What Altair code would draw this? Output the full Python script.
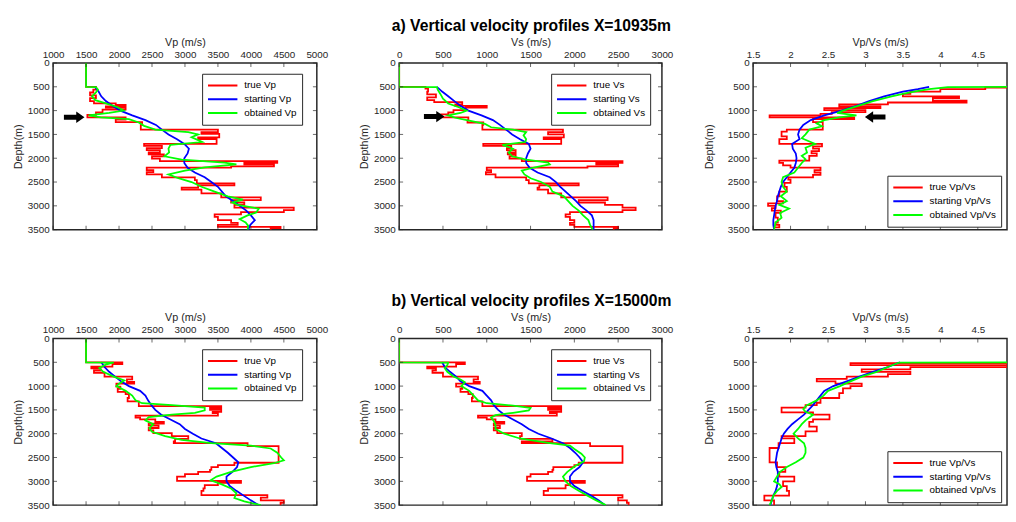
import altair as alt
import pandas as pd

FONT = "Liberation Sans"
AX = "#262626"
RED, BLUE, GREEN = "#ff0000", "#0000ff", "#00ff00"

DEPTH_TICKS = [0, 500, 1000, 1500, 2000, 2500, 3000, 3500]
VP_TICKS = [1000, 1500, 2000, 2500, 3000, 3500, 4000, 4500, 5000]
VS_TICKS = [0, 500, 1000, 1500, 2000, 2500, 3000]
VPVS_TICKS = [1.5, 2, 2.5, 3, 3.5, 4, 4.5]

TITLE_A = "a) Vertical velocity profiles X=10935m"
TITLE_B = "b) Vertical velocity profiles X=15000m"

# ---------- row a : X=10935m  (depth, value) ----------
A_VP_TRUE = [(0,1500),(500,1650),(560,1610),(620,1560),(680,1650),(740,1560),(800,1620),(850,1950),(880,2100),(910,1800),(940,2100),(980,1750),(1040,1650),(1090,1520),(1140,2100),(1190,1950),(1240,2350),(1300,2330),(1400,3500),(1450,3250),(1490,3520),(1560,3200),(1600,3480),(1700,2380),(1740,2650),(1790,2420),(1830,2620),(1880,2450),(1920,2680),(1960,2500),(2010,2620),(2060,4400),(2100,3900),(2130,4350),(2170,3700),(2200,2420),(2250,2520),(2290,2420),(2340,2650),(2400,3150),(2460,3180),(2530,3750),(2570,3200),(2620,2950),(2660,3250),(2740,3550),(2820,4150),(2880,3700),(2930,3900),(2980,3750),(3040,4650),(3090,4500),(3130,3850),(3180,3450),(3230,3500),(3300,3700),(3360,3800),(3400,3500),(3440,4450),(3470,4300)]
A_VP_START = [(500,1630),(600,1690),(700,1730),(800,1800),(900,1900),(1000,2020),(1100,2200),(1200,2400),(1300,2560),(1400,2650),(1500,2750),(1600,2880),(1700,2990),(1800,3060),(1900,3040),(2000,2990),(2100,2990),(2200,3040),(2300,3150),(2400,3300),(2500,3400),(2600,3500),(2700,3560),(2800,3620),(2900,3730),(3000,3830),(3100,3930),(3200,4000),(3300,4060),(3400,3990),(3500,3960)]
A_VP_OBT = [(0,1500),(500,1500),(505,1650),(560,1680),(620,1650),(700,1590),(780,1640),(850,1800),(930,1980),(1000,2070),(1050,1850),(1100,1540),(1140,1720),(1180,2150),(1250,2300),(1320,2380),(1400,2550),(1450,3050),(1500,3200),(1560,3100),(1620,3200),(1660,3260),(1720,2780),(1800,2750),(1880,2760),(1960,2690),(2030,2950),(2090,3600),(2130,3780),(2190,3300),(2260,3000),(2340,2750),(2420,2900),(2500,3100),(2600,3250),(2700,3450),(2800,3650),(2870,3880),(2930,3720),(2980,3800),(3060,4120),(3140,4080),(3200,3950),(3280,3830),(3350,3920),(3420,3960),(3500,3950)]

A_VS_TRUE = [(0,0),(500,300),(540,330),(600,320),(660,420),(720,320),(780,400),(820,720),(870,640),(900,1000),(940,760),(990,620),(1040,560),(1080,480),(1140,790),(1200,780),(1250,960),(1300,950),(1400,1870),(1450,1700),(1500,1880),(1560,1650),(1600,1850),(1700,960),(1740,1280),(1790,1230),(1830,1330),(1880,1240),(1920,1330),(1960,1260),(2010,1400),(2060,2550),(2100,2250),(2130,2500),(2170,2150),(2200,1000),(2250,1050),(2290,990),(2340,1100),(2400,1450),(2460,1480),(2530,2050),(2570,1600),(2620,1580),(2660,1700),(2740,1850),(2820,2380),(2880,2050),(2930,2350),(2980,2550),(3040,2700),(3090,2550),(3130,1950),(3180,1900),(3230,1950),(3300,2000),(3360,1950),(3400,2000),(3440,2500),(3470,2450)]
A_VS_START = [(500,430),(600,490),(700,560),(800,630),(900,700),(1000,790),(1100,940),(1200,1070),(1300,1150),(1400,1220),(1500,1290),(1600,1380),(1700,1480),(1800,1500),(1900,1470),(2000,1450),(2100,1450),(2200,1490),(2300,1580),(2400,1720),(2500,1790),(2600,1840),(2700,1900),(2800,1960),(2900,2020),(3000,2070),(3100,2140),(3200,2200),(3300,2220),(3400,2220),(3500,2220)]
A_VS_OBT = [(0,0),(500,0),(505,430),(560,440),(650,470),(750,500),(850,560),(930,680),(1000,770),(1050,700),(1100,560),(1150,640),(1210,800),(1280,980),(1350,1050),(1400,1300),(1450,1450),(1520,1420),(1600,1450),(1660,1440),(1720,1180),(1800,1300),(1880,1250),(1960,1290),(2030,1450),(2090,1700),(2130,1720),(2190,1550),(2260,1400),(2340,1430),(2420,1500),(2500,1620),(2600,1720),(2700,1750),(2800,1880),(2900,1930),(3000,1980),(3100,2050),(3200,2100),(3300,2160),(3400,2180),(3500,2210)]

A_R_TRUE = [(500,5.2),(515,4.6),(550,4.0),(600,3.6),(650,3.5),(700,4.25),(740,3.9),(790,4.35),(830,3.3),(870,2.65),(910,3.2),(950,2.45),(990,3.0),(1030,2.55),(1070,2.4),(1100,1.72),(1140,2.85),(1180,2.3),(1240,2.43),(1400,1.95),(1440,1.88),(1540,1.95),(1600,1.85),(1700,2.42),(1750,2.3),(1800,2.38),(1850,2.28),(1900,2.35),(1950,2.25),(2050,1.85),(2100,1.9),(2150,2.0),(2200,2.4),(2250,2.32),(2300,2.4),(2350,2.3),(2400,1.97),(2450,2.0),(2520,1.92),(2600,1.95),(2700,1.85),(2800,1.82),(2900,1.9),(2950,1.7),(3000,1.8),(3050,1.75),(3100,1.87),(3150,1.8),(3250,1.83),(3350,1.8),(3400,1.85),(3450,1.78)]
A_R_START = [(500,3.85),(550,3.7),(600,3.5),(700,3.25),(800,3.05),(900,2.88),(1000,2.68),(1100,2.45),(1200,2.27),(1300,2.17),(1400,2.12),(1500,2.1),(1600,2.12),(1700,2.02),(1800,2.03),(1900,2.07),(2000,2.08),(2100,2.07),(2200,2.05),(2300,2.0),(2400,1.95),(2500,1.9),(2600,1.87),(2700,1.85),(2800,1.83),(2900,1.82),(3000,1.8),(3100,1.79),(3200,1.78),(3300,1.77),(3400,1.77),(3500,1.78)]
A_R_OBT = [(500,5.2),(505,4.1),(550,3.85),(600,3.65),(650,3.5),(700,3.35),(800,3.1),(900,2.9),(1000,2.7),(1050,2.62),(1100,2.88),(1140,2.65),(1200,2.45),(1270,2.35),(1330,2.42),(1400,2.25),(1500,2.2),(1580,2.15),(1700,2.33),(1780,2.2),(1880,2.22),(1950,2.15),(2020,2.2),(2100,2.15),(2200,2.1),(2300,2.05),(2400,1.9),(2500,1.88),(2600,1.9),(2700,1.95),(2800,1.87),(2900,1.95),(2980,1.85),(3060,1.98),(3150,1.86),(3250,1.88),(3350,1.8),(3500,1.78)]

# ---------- row b : X=15000m ----------
B_VP_TRUE = [(0,1500),(500,2050),(540,1900),(590,1580),(630,1720),(670,1620),(720,1780),(800,2200),(860,2120),(910,2230),(950,1960),(1010,2020),(1060,1980),(1120,2100),(1170,2150),(1250,2130),(1320,2300),(1420,3550),(1460,3380),(1500,3550),(1540,3420),(1570,3500),(1620,2250),(1660,2320),(1700,2550),(1750,2680),(1790,2450),(1830,2600),(1880,2450),(1930,2520),(1990,2800),(2050,3050),(2110,2850),(2160,2830),(2200,3950),(2260,4420),(2610,3750),(2660,3500),(2700,3400),(2760,3380),(2800,3200),(2850,3000),(2900,2880),(2990,3850),(3030,3500),(3080,3300),(3150,3280),(3200,3250),(3290,4250),(3340,4150),(3400,4500),(3450,4450)]
B_VP_START = [(500,1730),(600,1780),(700,1850),(800,1940),(900,2030),(1000,2150),(1100,2320),(1200,2400),(1300,2440),(1400,2490),(1500,2550),(1600,2640),(1700,2780),(1800,2920),(1900,3000),(2000,3120),(2100,3250),(2200,3470),(2300,3560),(2400,3650),(2500,3730),(2600,3810),(2700,3790),(2800,3720),(2900,3630),(3000,3630),(3100,3680),(3200,3780),(3300,3890),(3400,4000),(3500,4120)]
B_VP_OBT = [(0,1500),(500,1500),(505,1920),(550,1800),(620,1700),(700,1760),(800,1920),(880,2080),(950,2000),(1000,1960),(1100,2100),(1200,2200),(1300,2250),(1360,2350),(1400,2800),(1450,3300),(1510,3300),(1560,3150),(1600,2800),(1650,2450),(1720,2400),(1800,2520),(1880,2460),(1960,2500),(2050,2700),(2130,2950),(2200,3400),(2250,4000),(2310,4300),(2400,4400),(2500,4460),(2560,4500),(2620,4350),(2700,4000),(2800,3700),(2900,3480),(2980,3390),(3060,3550),(3150,3700),(3250,3780),(3350,3750),(3420,3900),(3500,4150)]

B_VS_TRUE = [(0,0),(500,750),(540,650),(590,320),(630,420),(670,380),(720,500),(800,900),(860,850),(910,920),(950,650),(1010,720),(1060,700),(1120,790),(1170,840),(1250,830),(1320,950),(1420,1850),(1460,1700),(1500,1850),(1540,1720),(1570,1800),(1620,900),(1660,1000),(1700,1100),(1750,1200),(1790,1080),(1830,1150),(1880,1080),(1930,1120),(1990,1400),(2050,1380),(2110,1750),(2160,1400),(2200,2180),(2260,2550),(2610,2050),(2660,2000),(2700,1760),(2760,1750),(2800,1700),(2850,1500),(2900,1460),(2990,2120),(3030,1950),(3080,1900),(3150,1700),(3200,1650),(3290,2550),(3340,2500),(3400,2600),(3450,2620)]
B_VS_START = [(500,490),(600,520),(700,580),(800,650),(900,700),(1000,800),(1100,950),(1200,1000),(1300,1050),(1400,1080),(1500,1130),(1600,1200),(1700,1300),(1800,1400),(1900,1480),(2000,1590),(2100,1740),(2200,1870),(2300,1950),(2400,2010),(2500,2060),(2600,2100),(2700,2060),(2800,1990),(2900,1950),(3000,1950),(3100,2000),(3200,2090),(3300,2190),(3400,2280),(3500,2350)]
B_VS_OBT = [(0,0),(500,0),(505,560),(560,550),(620,520),(700,550),(800,620),(860,700),(920,750),(1000,710),(1100,800),(1200,850),(1300,900),(1360,1000),(1410,1300),(1460,1500),(1510,1480),(1560,1300),(1610,1100),(1660,1050),(1730,1080),(1820,1100),(1900,1100),(2000,1200),(2100,1380),(2190,1700),(2250,1950),(2320,2000),(2420,2080),(2500,2120),(2580,2110),(2680,2010),(2800,1920),(2900,1870),(3000,1900),(3100,1960),(3200,2050),(3300,2150),(3400,2250),(3500,2360)]

B_R_TRUE = [(500,5.3),(520,2.8),(560,5.3),(600,3.6),(650,2.95),(700,3.6),(750,3.3),(800,2.75),(850,2.35),(900,2.6),(950,2.95),(1000,2.8),(1050,2.7),(1150,2.65),(1250,2.4),(1350,2.35),(1400,2.2),(1450,1.88),(1550,2.3),(1600,2.52),(1700,2.3),(1750,2.25),(1850,2.35),(1950,2.2),(2050,1.88),(2100,2.05),(2200,1.84),(2300,1.72),(2600,1.82),(2700,1.93),(2800,1.85),(2900,2.05),(3000,1.9),(3100,1.95),(3200,1.98),(3300,1.65),(3400,1.78)]
B_R_START = [(500,3.46),(600,3.3),(700,3.1),(800,2.92),(900,2.75),(1000,2.57),(1100,2.45),(1200,2.4),(1300,2.35),(1400,2.3),(1500,2.24),(1600,2.18),(1700,2.1),(1800,2.02),(1900,1.96),(2000,1.91),(2100,1.88),(2200,1.86),(2300,1.84),(2400,1.82),(2500,1.81),(2600,1.8),(2700,1.81),(2800,1.83),(2900,1.83),(3000,1.83),(3100,1.82),(3200,1.8),(3300,1.77),(3400,1.75),(3500,1.73)]
B_R_OBT = [(500,5.3),(505,3.45),(600,3.3),(700,3.15),(800,2.95),(900,2.8),(1000,2.66),(1100,2.5),(1200,2.44),(1300,2.35),(1400,2.22),(1480,2.17),(1540,2.2),(1600,2.3),(1660,2.25),(1720,2.2),(1800,2.15),(1900,2.1),(2000,2.04),(2100,2.1),(2200,2.18),(2300,2.2),(2400,2.2),(2500,2.17),(2600,2.07),(2700,1.95),(2800,1.86),(2900,1.82),(3000,1.78),(3060,1.85),(3120,1.88),(3200,1.82),(3300,1.77),(3400,1.75),(3500,1.72)]

# arrows marking the low-velocity layer (depth, value)
ARROW_A_VP = [(1140, 1320)]
ARROW_A_VS = [(1125, 400)]
ARROW_A_R = [(1135, 3.13)]

ARROW_RIGHT = "M-1,-0.24L0.2,-0.24L0.2,-0.55L1,0L0.2,0.55L0.2,0.24L-1,0.24Z"
ARROW_LEFT = "M1,-0.24L-0.2,-0.24L-0.2,-0.55L-1,0L-0.2,0.55L-0.2,0.24L1,0.24Z"

H = 170


def steps(layers, bottom=3500):
    out = []
    for i, (top, val) in enumerate(layers):
        bot = layers[i + 1][0] if i + 1 < len(layers) else bottom
        out.append((top, val))
        out.append((bot, val))
    return out


def panel(true_l, start_p, obt_p, names, xdom, xticks, xtitle, xfmt, width, lx, ly,
          arrow=None, arrow_shape=None, right_ticks=True, ytitle_pad=4):
    rows = []
    for s, pts in ((names[0], steps(true_l)), (names[1], start_p), (names[2], obt_p)):
        for k, (d, v) in enumerate(pts):
            rows.append({"series": s, "depth": d, "value": v, "k": k})
    df = pd.DataFrame(rows)

    xs = alt.Scale(domain=xdom, nice=False, zero=False)
    ys = alt.Scale(domain=[0, 3500], reverse=True, nice=False, zero=False)
    xaxis = alt.Axis(orient="top", title=xtitle, values=xticks, format=xfmt, ticks=False,
                     domain=False, grid=False, labelFontSize=10, titleFontSize=11,
                     labelPadding=4, titlePadding=2, labelFlush=False, labelOverlap=False)
    yaxis = alt.Axis(orient="left", title="Depth(m)", values=DEPTH_TICKS, format="d", ticks=False,
                     domain=False, grid=False, labelFontSize=10, titleFontSize=11,
                     labelPadding=4, titlePadding=ytitle_pad, labelFlush=False, labelOverlap=False)
    legend = alt.Legend(orient="none", legendX=lx, legendY=ly, title=None,
                        fillColor="white", strokeColor=AX, padding=5,
                        symbolType="stroke", symbolSize=900, symbolStrokeWidth=2,
                        labelFontSize=10, labelFont=FONT, labelColor="black",
                        clipHeight=14, rowPadding=0, labelOffset=6, labelLimit=300)
    color = alt.Color("series:N", scale=alt.Scale(domain=names, range=[RED, BLUE, GREEN]),
                      legend=legend)

    def X(**kw):
        return alt.X("value:Q", scale=xs, axis=xaxis, **kw)

    def Y(**kw):
        return alt.Y("depth:Q", scale=ys, axis=yaxis, **kw)

    base = alt.Chart(df)
    layers = []
    for s in names:
        layers.append(base.transform_filter(alt.datum.series == s)
                      .mark_line(strokeWidth=1.8, clip=True)
                      .encode(x=X(), y=Y(), color=color, order=alt.Order("k:Q")))

    tl = 4
    xt = alt.Chart(pd.DataFrame({"value": xticks}))
    layers.append(xt.mark_tick(orient="vertical", size=tl, thickness=1, color=AX, yOffset=tl / 2)
                  .encode(x=X(), y=alt.Y(datum=0, scale=ys, axis=yaxis)))
    layers.append(xt.mark_tick(orient="vertical", size=tl, thickness=1, color=AX, yOffset=-tl / 2)
                  .encode(x=X(), y=alt.Y(datum=3500, scale=ys, axis=yaxis)))
    yt = alt.Chart(pd.DataFrame({"depth": DEPTH_TICKS}))
    layers.append(yt.mark_tick(orient="horizontal", size=tl, thickness=1, color=AX, xOffset=tl / 2)
                  .encode(y=Y(), x=alt.X(datum=xdom[0], scale=xs, axis=xaxis)))
    if right_ticks:
        layers.append(yt.mark_tick(orient="horizontal", size=tl, thickness=1, color=AX, xOffset=-tl / 2)
                      .encode(y=Y(), x=alt.X(datum=xdom[1], scale=xs, axis=xaxis)))
    if arrow:
        adf = pd.DataFrame([{"depth": d, "value": v} for d, v in arrow])
        layers.append(alt.Chart(adf).mark_point(shape=arrow_shape, size=440, filled=True,
                                                 fill="black", strokeWidth=0, opacity=1)
                      .encode(x=X(), y=Y()))
    return alt.layer(*layers).properties(width=width, height=H)


def row(vp, vs, r, title, arrows):
    av = arrows or [None, None, None]
    p1 = panel(*vp, ["true Vp", "starting Vp", "obtained Vp"], [1000, 5000], VP_TICKS, "Vp (m/s)", "d",
               269, 152, 11, av[0], ARROW_RIGHT)
    p2 = panel(*vs, ["true Vs", "starting Vs", "obtained Vs"], [0, 3000], VS_TICKS, "Vs (m/s)", "d",
               268, 155, 11, av[1], ARROW_RIGHT)
    p3 = panel(*r, ["true Vp/Vs", "starting Vp/Vs", "obtained Vp/Vs"], [1.5, 4.89], VPVS_TICKS,
               "Vp/Vs (m/s)", "~g", 259, 137, 115, av[2], ARROW_LEFT, right_ticks=False,
               ytitle_pad=13)
    return (alt.hconcat(p1, p2, p3, spacing=30,
                        title=alt.TitleParams(title, fontSize=16, fontWeight="bold", font=FONT,
                                              color="black", anchor="middle", dx=22, offset=2))
            .resolve_scale(x="independent", color="independent")
            .resolve_legend(color="independent"))


row_a = row((A_VP_TRUE, A_VP_START, A_VP_OBT), (A_VS_TRUE, A_VS_START, A_VS_OBT),
            (A_R_TRUE, A_R_START, A_R_OBT), TITLE_A, [ARROW_A_VP, ARROW_A_VS, ARROW_A_R])
row_b = row((B_VP_TRUE, B_VP_START, B_VP_OBT), (B_VS_TRUE, B_VS_START, B_VS_OBT),
            (B_R_TRUE, B_R_START, B_R_OBT), TITLE_B, None)

chart = (alt.vconcat(row_a, row_b, spacing=59)
         .resolve_scale(x="independent", color="independent")
         .resolve_legend(color="independent")
         .properties(padding={"left": 4, "top": 5, "right": 0, "bottom": 0}, background="white")
         .configure_view(stroke=AX, strokeWidth=1.5)
         .configure_axis(labelFont=FONT, titleFont=FONT, labelColor=AX, titleColor=AX,
                         titleFontWeight="normal"))

chart.save("out.html", embed_options={"renderer": "svg", "actions": False})
